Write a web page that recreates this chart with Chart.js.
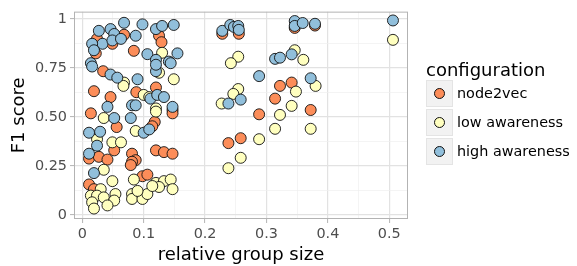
<!DOCTYPE html>
<html>
<head>
<meta charset="utf-8">
<script src="https://cdn.jsdelivr.net/npm/chart.js@4/dist/chart.umd.min.js"></script>
<style>
  body { margin: 0; background: #fff; }
  #wrap { position: relative; width: 577px; height: 266px; font-family: "DejaVu Sans", sans-serif; }
  #box { position: absolute; left: 0; top: 0; width: 577px; height: 266px; }
  .lg-title { position: absolute; left: 426px; top: 59px; font-size: 18px; line-height: 22px; color: #000; }
  .key { position: absolute; left: 426px; width: 27px; height: 27px; background: #f2f2f2; box-sizing: border-box; border: 1px solid #e4e4e4; }
  .key span { position: absolute; left: 7px; top: 7px; width: 11px; height: 11px; border-radius: 50%; box-sizing: border-box; border: 1px solid #111; }
  .lg-text { position: absolute; left: 457px; font-size: 14.4px; line-height: 18px; color: #000; white-space: nowrap; }
</style>
</head>
<body>
<div id="wrap">
  <div id="box"><canvas id="myChart"></canvas></div>
  <div class="lg-title">configuration</div>
  <div class="key" style="top:80px"><span style="background:#fc8d59"></span></div>
  <div class="lg-text" style="top:84px">node2vec</div>
  <div class="key" style="top:109px"><span style="background:#ffffbf"></span></div>
  <div class="lg-text" style="top:113px">low awareness</div>
  <div class="key" style="top:138px"><span style="background:#91bfdb"></span></div>
  <div class="lg-text" style="top:142px">high awareness</div>
</div>
<script>
// values
const node2vecX = [0.068,0.125,0.129,0.024,0.049,0.022,0.084,0.034,0.019,0.046,
  0.014,0.088,0.120,0.147,0.056,0.118,0.147,0.114,0.052,0.081,
  0.087,0.011,0.027,0.041,0.120,0.133,0.147,0.081,0.079,0.098,
  0.106,0.011,0.019,0.228,0.255,0.346,0.379,0.322,0.341,0.314,
  0.372,0.288,0.238,0.258];
const node2vecY = [0.919,0.914,0.881,0.898,0.873,0.824,0.837,0.733,0.631,0.601,
  0.518,0.626,0.650,0.535,0.448,0.474,0.518,0.452,0.329,0.312,
  0.279,0.287,0.296,0.282,0.329,0.320,0.312,0.271,0.254,0.197,
  0.205,0.155,0.131,0.924,0.924,0.954,0.966,0.658,0.675,0.593,
  0.535,0.513,0.366,0.391];

const lowX = [0.130,0.068,0.067,0.125,0.149,0.100,0.109,0.120,0.035,0.120,
  0.087,0.024,0.049,0.063,0.035,0.030,0.049,0.084,0.120,0.133,
  0.144,0.147,0.014,0.024,0.035,0.054,0.052,0.041,0.081,0.081,
  0.098,0.106,0.090,0.016,0.019,0.125,0.114,0.506,0.254,0.242,
  0.346,0.360,0.380,0.348,0.341,0.254,0.246,0.227,0.322,0.314,
  0.372,0.288,0.258,0.238];
const lowY = [0.827,0.675,0.658,0.725,0.692,0.612,0.601,0.543,0.494,0.527,
  0.428,0.386,0.370,0.370,0.230,0.131,0.172,0.180,0.163,0.172,
  0.180,0.131,0.098,0.098,0.089,0.106,0.073,0.048,0.106,0.081,
  0.081,0.106,0.122,0.064,0.032,0.142,0.147,0.893,0.807,0.774,
  0.840,0.791,0.658,0.629,0.556,0.642,0.617,0.568,0.510,0.439,
  0.439,0.386,0.291,0.238];

const highX = [0.068,0.098,0.120,0.130,0.149,0.087,0.027,0.046,0.052,0.033,
  0.049,0.063,0.016,0.019,0.014,0.106,0.120,0.155,0.141,0.016,
  0.046,0.057,0.090,0.120,0.120,0.144,0.041,0.111,0.122,0.133,
  0.081,0.087,0.147,0.052,0.079,0.100,0.109,0.011,0.029,0.024,
  0.011,0.019,0.228,0.241,0.247,0.254,0.255,0.346,0.346,0.359,
  0.379,0.506,0.314,0.322,0.341,0.288,0.372,0.238,0.258];
const highY = [0.980,0.972,0.948,0.964,0.969,0.914,0.939,0.948,0.923,0.873,
  0.890,0.898,0.873,0.840,0.774,0.820,0.791,0.824,0.782,0.757,
  0.716,0.700,0.692,0.733,0.766,0.774,0.551,0.593,0.612,0.601,
  0.559,0.559,0.551,0.494,0.494,0.419,0.436,0.419,0.424,0.353,
  0.312,0.213,0.939,0.969,0.959,0.964,0.944,0.989,0.964,0.979,
  0.975,0.992,0.796,0.802,0.819,0.708,0.697,0.568,0.588];

const xTickValues = [0, 0.1, 0.2, 0.3, 0.4, 0.5];
const xTickLabels = ['0', '0.1', '0.2', '0.3', '0.4', '0.5'];
const yTickValues = [0, 0.25, 0.5, 0.75, 1];
const yTickLabels = ['0', '0.25', '0.50', '0.75', '1'];

const fontFamily = '"DejaVu Sans", sans-serif';

function toPoints(xs, ys) {
  return xs.map((x, i) => ({ x: x, y: ys[i] }));
}

function majorIndex(v, values) {
  return values.findIndex(t => Math.abs(t - v) < 1e-9);
}

// ggplot-like panel border on all four sides
const panelBorder = {
  id: 'panelBorder',
  afterDatasetsDraw(chart) {
    const { ctx, chartArea: a } = chart;
    ctx.save();
    ctx.strokeStyle = '#b3b3b3';
    ctx.lineWidth = 1;
    ctx.strokeRect(a.left + 0.5, a.top + 0.5, a.right - a.left - 1, a.bottom - a.top - 1);
    ctx.restore();
  }
};

function gridFor(values) {
  return {
    color: c => (c.tick && majorIndex(c.tick.value, values) >= 0) ? '#e2e2e2' : '#efefef',
    lineWidth: c => (c.tick && majorIndex(c.tick.value, values) >= 0) ? 1.2 : 0.7,
    tickLength: 4,
    tickColor: c => (c.tick && majorIndex(c.tick.value, values) >= 0) ? '#b3b3b3' : 'rgba(0,0,0,0)',
    tickWidth: 1
  };
}

const ctx = document.getElementById('myChart').getContext('2d');
new Chart(ctx, {
  type: 'scatter',
  data: {
    datasets: [
      { label: 'high awareness', data: toPoints(highX, highY), backgroundColor: '#91bfdb', order: 0 },
      { label: 'low awareness', data: toPoints(lowX, lowY), backgroundColor: '#ffffbf', order: 1 },
      { label: 'node2vec', data: toPoints(node2vecX, node2vecY), backgroundColor: '#fc8d59', order: 2 }
    ]
  },
  options: {
    responsive: true,
    maintainAspectRatio: false,
    animation: false,
    layout: { padding: { top: 5, right: 169, left: 0, bottom: 0 } },
    elements: { point: { radius: 5.5, borderWidth: 0.9, borderColor: '#111', hoverRadius: 5.5 } },
    plugins: { legend: { display: false }, tooltip: { enabled: false } },
    scales: {
      x: {
        type: 'linear',
        min: -0.0135,
        max: 0.5305,
        ticks: {
          stepSize: 0.05,
          includeBounds: false,
          autoSkip: false,
          maxRotation: 0,
          padding: 3,
          color: '#4d4d4d',
          font: { family: fontFamily, size: 14.4 },
          callback: v => { const i = majorIndex(v, xTickValues); return i >= 0 ? xTickLabels[i] : ''; }
        },
        grid: gridFor(xTickValues),
        border: { display: false },
        title: { display: true, text: 'relative group size', color: '#000', font: { family: fontFamily, size: 18 }, padding: 0 },
        afterFit: s => { s.height = 47; }
      },
      y: {
        type: 'linear',
        min: -0.0213,
        max: 1.037,
        ticks: {
          stepSize: 0.125,
          includeBounds: false,
          autoSkip: false,
          padding: 3,
          color: '#4d4d4d',
          font: { family: fontFamily, size: 14.4 },
          callback: v => { const i = majorIndex(v, yTickValues); return i >= 0 ? yTickLabels[i] : ''; }
        },
        grid: gridFor(yTickValues),
        border: { display: false },
        title: { display: true, text: 'F1 score', color: '#000', font: { family: fontFamily, size: 18 }, padding: 9 },
        afterFit: s => { s.width = 74; }
      }
    }
  },
  plugins: [panelBorder]
});
</script>
</body>
</html>
